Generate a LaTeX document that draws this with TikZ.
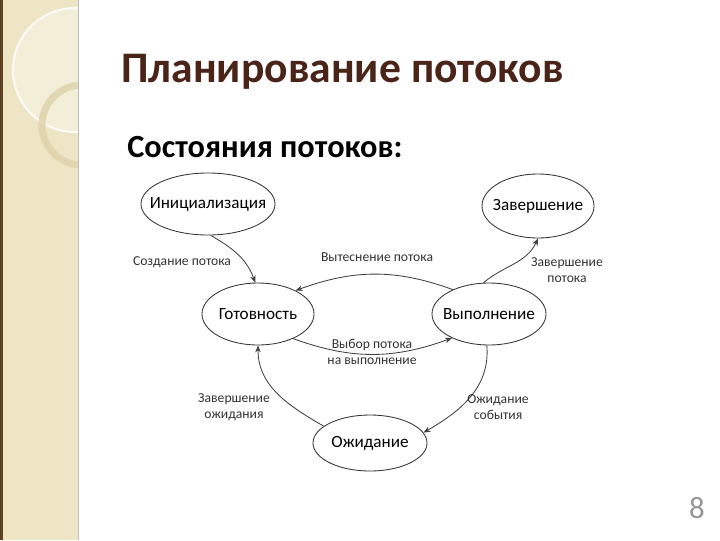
\documentclass[tikz,border=0pt]{standalone}
\usepackage{fontspec}
\setmainfont{Carlito}
\usepackage{xcolor}
\usepackage{tikz}
\usetikzlibrary{shapes,shapes.geometric}
\usetikzlibrary{arrows.meta,backgrounds,positioning}
\pgfdeclarelayer{edgelayer}
\pgfdeclarelayer{nodelayer}
\pgfsetlayers{background,edgelayer,nodelayer,main}
\definecolor{stripfill}{RGB}{238,229,196}
\definecolor{stripedge}{RGB}{92,66,34}
\definecolor{ringcol}{RGB}{222,210,170}
\definecolor{titlecol}{RGB}{74,36,24}
\definecolor{pagecol}{RGB}{150,150,150}
\tikzstyle{none}=[inner sep=0mm]
\tikzstyle{state}=[shape=ellipse,draw=black!80,line width=0.6pt,fill=white,inner xsep=-8pt,inner ysep=0pt,minimum width=2.8cm,minimum height=1.55cm,font=\fontsize{12.2}{14}\selectfont]
\tikzstyle{lbl}=[inner sep=0mm,align=center,text=black!80,font=\fontsize{9.7}{11.5}\selectfont]
\tikzstyle{diredge}=[-{Stealth[length=5pt,width=4pt]},draw=black!75,line width=0.6pt]

\begin{document}
\begin{tikzpicture}[x=0.025cm,y=0.025cm]
	\useasboundingbox (0,0) rectangle (720,-540);
	\begin{pgfonlayer}{background}
		\fill[white] (0,0) rectangle (720,-540);
		% left strip
		\fill[stripfill] (0,0) rectangle (78,-540);
		\begin{scope}
			\clip (0,0) rectangle (78,-540);
			\fill[white,opacity=0.35] (75,-70) circle (62);
			\draw[white,opacity=0.8,line width=1.5pt] (75,-70) circle (62);
			\draw[ringcol,line width=5pt,opacity=0.8] (82,-125) circle (40);
		\end{scope}
		\fill[stripedge] (0,0) rectangle (3,-540);
		\draw[black!25,line width=0.6pt] (78,0) -- (78,-540);
	\end{pgfonlayer}
	% titles
	\node [style=none,anchor=base west,text=titlecol,font=\fontsize{31}{36}\selectfont\bfseries] (title) at (121,-82) {Планирование потоков};
	\node [style=none,anchor=base west,font=\fontsize{23}{26}\selectfont\bfseries] (subtitle) at (127,-157) {Состояния потоков:};
	\node [style=none,text=pagecol,font=\fontsize{22}{24}\selectfont] (pagenum) at (697,-508) {8};
	\begin{pgfonlayer}{nodelayer}
		\node [style=state,minimum width=3.35cm] (init) at (208,-204) {Инициализация};
		\node [style=state,minimum height=1.6cm] (fin) at (538,-206) {Завершение};
		\node [style=state] (ready) at (258,-314) {Готовность};
		\node [style=state,minimum width=2.85cm] (exec) at (489,-314) {Выполнение};
		\node [style=state,minimum width=2.85cm,minimum height=1.4cm] (wait) at (370,-443) {Ожидание};
		\node [style=lbl] (l1) at (182,-262) {Создание потока};
		\node [style=lbl] (l2) at (377,-257) {Вытеснение потока};
		\node [style=lbl] (l3) at (567,-270) {Завершение\\потока};
		\node [style=lbl] (l4) at (372,-352) {Выбор потока\\на выполнение};
		\node [style=lbl] (l5) at (234,-407) {Завершение\\ожидания};
		\node [style=lbl] (l6) at (498,-407) {Ожидание\\события};
	\end{pgfonlayer}
	\begin{pgfonlayer}{edgelayer}
		\draw [style=diredge] (init.275) to [out=-30,in=110] (ready.95);
		\draw [style=diredge] (exec.146) to [out=160,in=20] (ready.32);
		\draw [style=diredge] (ready.325) to [out=-20,in=200] (exec.213);
		\draw [style=diredge] (exec.100) to [out=40,in=245] (fin.270);
		\draw [style=diredge] (exec.266) to [out=-85,in=30] (wait.11);
		\draw [style=diredge] (wait.160) to [out=150,in=-90] (ready.270);
	\end{pgfonlayer}
\end{tikzpicture}
\end{document}
